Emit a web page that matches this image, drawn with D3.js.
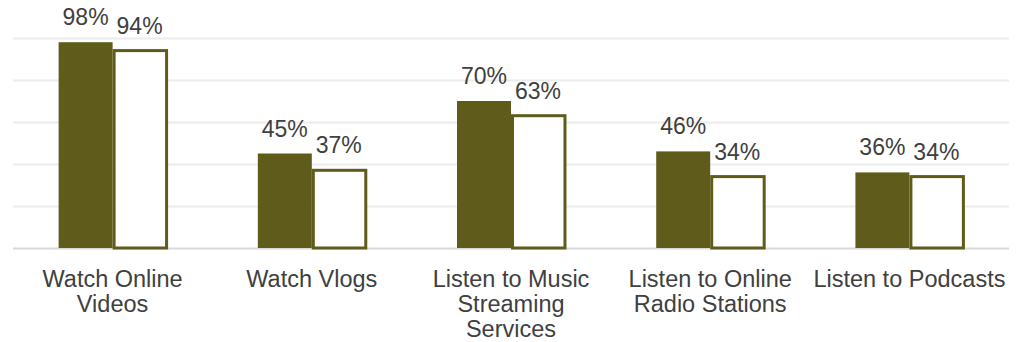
<!DOCTYPE html>
<html>
<head>
<meta charset="utf-8">
<script src="https://cdn.jsdelivr.net/npm/d3@7"></script>
<style>
  html, body { margin: 0; padding: 0; background: #ffffff; }
  svg { display: block; }
  text { font-family: "Liberation Sans", Arial, sans-serif; }
</style>
</head>
<body>
<svg id="chart" width="1024" height="342"></svg>
<script>
// Activity categories (each label split into its display lines)
const categories = [
  "Watch Online Videos",
  "Watch Vlogs",
  "Listen to Music Streaming Services",
  "Listen to Online Radio Stations",
  "Listen to Podcasts"
];
const categoryLines = [
  ["Watch Online", "Videos"],
  ["Watch Vlogs"],
  ["Listen to Music", "Streaming", "Services"],
  ["Listen to Online", "Radio Stations"],
  ["Listen to Podcasts"]
];

// Two series, in percent
const seriesNames = ["filled", "outline"];
const filledValues = [98, 45, 70, 46, 36];
const outlineValues = [94, 37, 63, 34, 34];

// Gridline ticks (percent)
const gridTicks = [0, 20, 40, 60, 80, 100];

const olive = "#5e5b1b";
const labelColor = "#404040";

const svg = d3.select("#chart");

const plot = { left: 13, right: 1009, top: 38, bottom: 248 };

const x = d3.scaleBand()
  .domain(categories)
  .range([plot.left, plot.right])
  .paddingInner(0.458)
  .paddingOuter(0.229);

const xs = d3.scaleBand()
  .domain(seriesNames)
  .range([0, x.bandwidth()]);

const y = d3.scaleLinear()
  .domain([0, 100])
  .range([plot.bottom, plot.top]);

// Horizontal gridlines
const gridAxis = d3.axisLeft(y)
  .tickValues(gridTicks)
  .tickSize(-(plot.right - plot.left))
  .tickFormat("");

const grid = svg.append("g")
  .attr("transform", `translate(${plot.left},0)`)
  .call(gridAxis);
grid.select(".domain").remove();
grid.selectAll(".tick line")
  .attr("stroke", d => d === 0 ? "#d9d9d9" : "#ececec")
  .attr("stroke-width", 2);

const rows = categories.map((c, i) => ({
  category: c,
  lines: categoryLines[i],
  filled: filledValues[i],
  outline: outlineValues[i]
}));

const groups = svg.append("g")
  .selectAll("g")
  .data(rows)
  .join("g")
  .attr("transform", d => `translate(${x(d.category)},0)`);

// Solid bars
groups.append("rect")
  .attr("x", xs("filled"))
  .attr("width", xs.bandwidth())
  .attr("y", d => y(d.filled))
  .attr("height", d => y(0) - y(d.filled))
  .attr("fill", olive);

// Hollow bars
groups.append("rect")
  .attr("x", xs("outline") + 1.5)
  .attr("width", xs.bandwidth() - 1.5)
  .attr("y", d => y(d.outline))
  .attr("height", d => y(0) - y(d.outline))
  .attr("fill", "#ffffff")
  .attr("stroke", olive)
  .attr("stroke-width", 3);

// Value labels
groups.append("text")
  .attr("x", xs("filled") + xs.bandwidth() / 2)
  .attr("y", d => y(d.filled) - 17)
  .attr("text-anchor", "middle")
  .attr("font-size", 23)
  .attr("fill", labelColor)
  .text(d => d.filled + "%");

groups.append("text")
  .attr("x", xs("outline") + xs.bandwidth() / 2)
  .attr("y", d => y(d.outline) - 17)
  .attr("text-anchor", "middle")
  .attr("font-size", 23)
  .attr("fill", labelColor)
  .text(d => d.outline + "%");

// Category labels
const catText = groups.append("text")
  .attr("text-anchor", "middle")
  .attr("font-size", 23.5)
  .attr("fill", labelColor);

catText.selectAll("tspan")
  .data(d => d.lines)
  .join("tspan")
  .attr("x", x.bandwidth() / 2)
  .attr("y", (d, i) => 287 + i * 25)
  .text(d => d);
</script>
</body>
</html>
